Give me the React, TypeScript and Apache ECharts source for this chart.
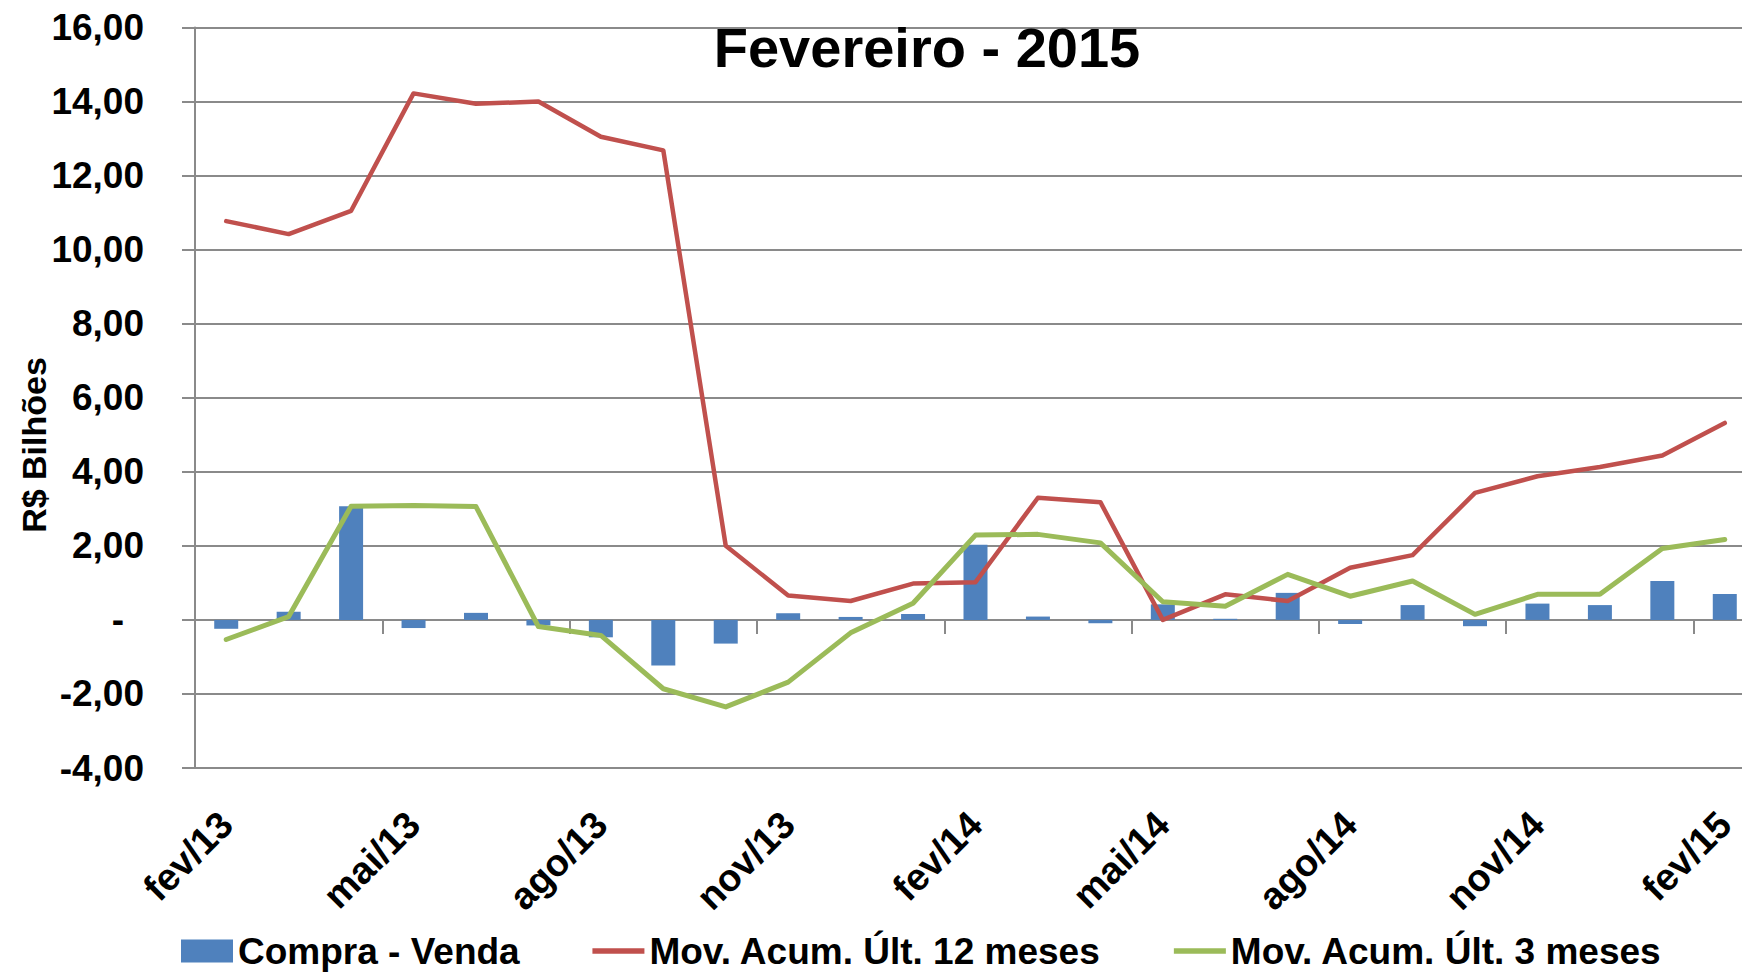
import React, { useEffect, useRef } from "react";
import * as echarts from "echarts";

const categories = [
  "fev/13", "mar/13", "abr/13", "mai/13", "jun/13", "jul/13", "ago/13", "set/13", "out/13",
  "nov/13", "dez/13", "jan/14", "fev/14", "mar/14", "abr/14", "mai/14", "jun/14", "jul/14",
  "ago/14", "set/14", "out/14", "nov/14", "dez/14", "jan/15", "fev/15",
];

const compraVenda = [
  -0.24, 0.22, 3.07, -0.22, 0.19, -0.15, -0.47, -1.23, -0.64, 0.18, 0.08, 0.16, 2.03,
  0.09, -0.09, 0.42, 0.03, 0.73, -0.11, 0.4, -0.17, 0.44, 0.4, 1.05, 0.7,
];

const acum12 = [
  10.77, 10.42, 11.05, 14.22, 13.94, 14.0, 13.05, 12.68, 2.0, 0.66, 0.51, 0.98, 1.02,
  3.3, 3.18, 0.0, 0.69, 0.51, 1.41, 1.75, 3.43, 3.88, 4.13, 4.44, 5.32,
];

const acum3 = [
  -0.53, 0.09, 3.07, 3.09, 3.06, -0.18, -0.42, -1.86, -2.35, -1.68, -0.35, 0.45, 2.29,
  2.31, 2.08, 0.49, 0.37, 1.23, 0.64, 1.05, 0.15, 0.69, 0.69, 1.93, 2.17,
];

const seriesNames = ["Compra - Venda", "Mov. Acum. Últ. 12 meses", "Mov. Acum. Últ. 3 meses"];
const titleText = "Fevereiro - 2015";
const yAxisTitle = "R$ Bilhões";

const FONT = "'Liberation Sans', Arial, sans-serif";
const GRID_COLOR = "#8a8a8a";
const BLUE = "#4F81BD";
const RED = "#C0504D";
const GREEN = "#9BBB59";

export default function App() {
  const ref = useRef<HTMLDivElement>(null);

  useEffect(() => {
    document.body.style.margin = "0";
    if (!ref.current) return;
    const chart = echarts.init(ref.current, null, { renderer: "svg" });
    const hiddenSymbol = { color: "rgba(0,0,0,0)", borderWidth: 0, opacity: 0 };
    const option: any = {
      animation: false,
      backgroundColor: "#ffffff",
      textStyle: { fontFamily: FONT },
      title: {
        text: titleText,
        left: 922,
        textAlign: "center",
        top: 14,
        textStyle: { fontFamily: FONT, fontSize: 56, fontWeight: "bold", color: "#000" },
      },
      graphic: [
        {
          type: "text",
          x: 34,
          y: 445,
          rotation: Math.PI / 2,
          style: {
            text: yAxisTitle,
            fontFamily: FONT,
            fontSize: 34,
            fontWeight: "bold",
            fill: "#000",
            textAlign: "center",
            textVerticalAlign: "middle",
          },
        },
      ],
      legend: {
        data: [
          { name: seriesNames[0], icon: "rect" },
          { name: seriesNames[1], itemStyle: hiddenSymbol, lineStyle: { width: 5.5, cap: "butt" } },
          { name: seriesNames[2], itemStyle: hiddenSymbol, lineStyle: { width: 5.5, cap: "butt" } },
        ],
        left: 176,
        top: 927,
        itemGap: 70,
        itemWidth: 52,
        itemHeight: 23,
        textStyle: {
          fontFamily: FONT,
          fontSize: 37,
          lineHeight: 38,
          fontWeight: "bold",
          color: "#000",
        },
      },
      grid: {
        left: 195,
        right: -14,
        top: 27.5,
        bottom: 204,
        containLabel: false,
        outerBoundsMode: "none",
      },
      xAxis: [
        {
          type: "category",
          data: categories,
          boundaryGap: true,
          axisLine: { show: true, onZero: true, lineStyle: { color: GRID_COLOR, width: 2 } },
          axisTick: { show: true, interval: 2, length: 14, lineStyle: { color: GRID_COLOR, width: 2 } },
          axisLabel: { show: false },
          splitLine: { show: false },
        },
        {
          type: "category",
          data: categories,
          position: "bottom",
          boundaryGap: true,
          axisLine: { show: false, onZero: false },
          axisTick: { show: false },
          axisLabel: {
            show: true,
            interval: 2,
            rotate: 45,
            margin: 50,
            fontFamily: FONT,
            fontSize: 38,
            lineHeight: 28,
            fontWeight: "bold",
            color: "#000",
          },
          splitLine: { show: false },
        },
      ],
      yAxis: {
        type: "value",
        min: -4,
        max: 16,
        interval: 2,
        axisLine: { show: true, lineStyle: { color: GRID_COLOR, width: 2 } },
        axisTick: { show: true, length: 13, lineStyle: { color: GRID_COLOR, width: 2 } },
        splitLine: { show: true, lineStyle: { color: GRID_COLOR, width: 2 } },
        axisLabel: {
          margin: 51,
          fontFamily: FONT,
          fontSize: 37,
          fontWeight: "bold",
          color: "#000",
          formatter: (v: number) => (v === 0 ? "{z|-}" : v.toFixed(2).replace(".", ",")),
          rich: {
            z: {
              fontFamily: FONT,
              fontSize: 37,
              fontWeight: "bold",
              color: "#000",
              padding: [0, 20, 0, 0],
            },
          },
        },
      },
      series: [
        {
          name: seriesNames[0],
          type: "bar",
          xAxisIndex: 0,
          data: compraVenda,
          barWidth: 24,
          itemStyle: { color: BLUE },
          z: 2,
        },
        {
          name: seriesNames[1],
          type: "line",
          xAxisIndex: 0,
          data: acum12,
          symbol: "none",
          lineStyle: { color: RED, width: 4.5, cap: "round", join: "round" },
          itemStyle: { color: RED },
          z: 3,
        },
        {
          name: seriesNames[2],
          type: "line",
          xAxisIndex: 0,
          data: acum3,
          symbol: "none",
          lineStyle: { color: GREEN, width: 5, cap: "round", join: "round" },
          itemStyle: { color: GREEN },
          z: 4,
        },
      ],
    };
    chart.setOption(option);
    return () => chart.dispose();
  }, []);

  return <div ref={ref} style={{ width: 1742, height: 972 }} />;
}
